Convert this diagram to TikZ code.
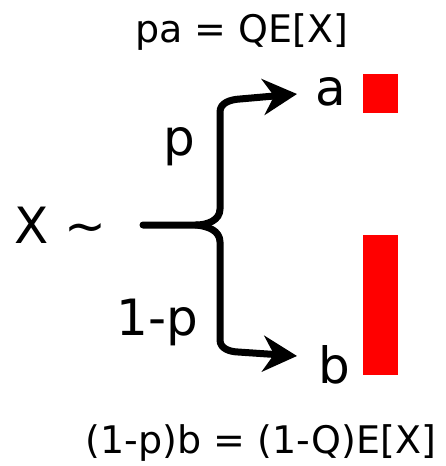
\documentclass[tikz,border=0pt]{standalone}
\usepackage{fontspec}
\setmainfont{DejaVu Sans}
\usepackage{tikz}
\usetikzlibrary{arrows.meta,positioning}
\usepackage{xcolor}

\begin{document}
\begin{tikzpicture}[
  x=1pt,y=1pt,
  lbl/.style={inner sep=0pt,anchor=base,font=\fontsize{50}{50}\selectfont},
  eq/.style={inner sep=0pt,anchor=base,font=\fontsize{38}{38}\selectfont},
  bar/.style={fill=red,draw=none,inner sep=0pt,anchor=north west,minimum width=35pt},
  brc/.style={line width=7pt,line cap=round,line join=round,
              -{Stealth[length=34pt,width=36pt,inset=11pt]}}
]
\useasboundingbox (0,0) rectangle (446,-466);

\node[eq]  (top) at (242,-42)  {pa = QE[X]};
\node[eq]  (bot) at (261,-453) {(1-p)b = (1-Q)E[X]};

\node[lbl,anchor=base west] (src) at (14,-243) {X \char"007E};
\node[lbl] (a)  at (331,-105) {a};
\node[lbl] (b)  at (334,-383) {b};
\node[lbl] (pu) at (179,-155) {p};
\node[lbl] (pl) at (157,-335) {1-p};

\node[bar,minimum height=39pt]  (bara) at (363,-74)  {};
\node[bar,minimum height=140pt] (barb) at (363,-235) {};

\coordinate (start) at (143,-225);
\coordinate (fork)  at (196,-225);
\coordinate (tipa)  at (297,-94);
\coordinate (tipb)  at (297,-356);

% the two branches of the split
\draw[brc] (start) -- (fork) to[out=0,in=-90] (220,-209) -- (220,-112)
  to[out=90,in=183] (240,-99) -- (tipa);
\draw[brc] (fork) to[out=-5,in=90] (220,-242) -- (220,-340)
  to[out=-90,in=178] (238,-352) -- (tipb);
\end{tikzpicture}
\end{document}
